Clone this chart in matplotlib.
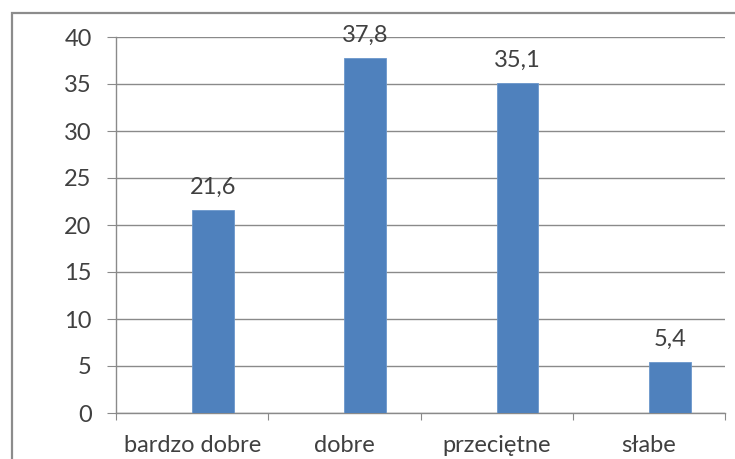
import matplotlib.pyplot as plt
from matplotlib.patches import Rectangle

categories = ['bardzo dobre', 'dobre', 'przeciętne', 'słabe']
values = [21.6, 37.8, 35.1, 5.4]
yticks = [0, 5, 10, 15, 20, 25, 30, 35, 40]

plt.rcParams['font.family'] = ['Lato', 'DejaVu Sans']
text_col = '#404040'
grid_col = '#8a8a8a'
bar_col = '#4f81bd'
fs = 17

fig = plt.figure(figsize=(7.35, 4.59), dpi=100)
ax = fig.add_axes([116 / 735, 1 - 413 / 459, 609 / 735, 376 / 459])

# outer chart frame (cropped at right and bottom)
frame = Rectangle((12 / 735, -0.2), 1.2, 1.2 - 13 / 459, transform=fig.transFigure,
                  fill=False, edgecolor='#8c8c8c', linewidth=1.6, clip_on=False)
fig.patches.append(frame)

x = list(range(len(categories)))
ax.bar(x, values, width=0.275, align='edge', color=bar_col, edgecolor='#6b97cc', linewidth=0.6, zorder=3)

for xi, v in zip(x, values):
    ax.text(xi + 0.1375, v + 1.3, f'{v:.1f}'.replace('.', ','), ha='center', va='bottom',
            fontsize=fs, color=text_col)

ax.set_xlim(-0.5, len(categories) - 0.5)
ax.set_ylim(0, 40)
ax.set_yticks(yticks)
ax.set_yticklabels([str(t) for t in yticks], fontsize=fs, color=text_col)
ax.yaxis.grid(True, color=grid_col, linewidth=1.0, zorder=0)
ax.tick_params(axis='y', length=6.5, color=grid_col, pad=11)

ax.set_xticks([i - 0.5 for i in range(len(categories) + 1)])
ax.set_xticklabels([])
ax.set_xticks(x, minor=True)
ax.set_xticklabels(categories, minor=True, fontsize=fs, color=text_col)
ax.tick_params(axis='x', which='major', length=5, color=grid_col, direction='out')
ax.tick_params(axis='x', which='minor', length=0, pad=16)

for s in ['top', 'right']:
    ax.spines[s].set_visible(False)
for s in ['left', 'bottom']:
    ax.spines[s].set_color(grid_col)
    ax.spines[s].set_linewidth(1.0)

fig.savefig('out.png', dpi=100)
